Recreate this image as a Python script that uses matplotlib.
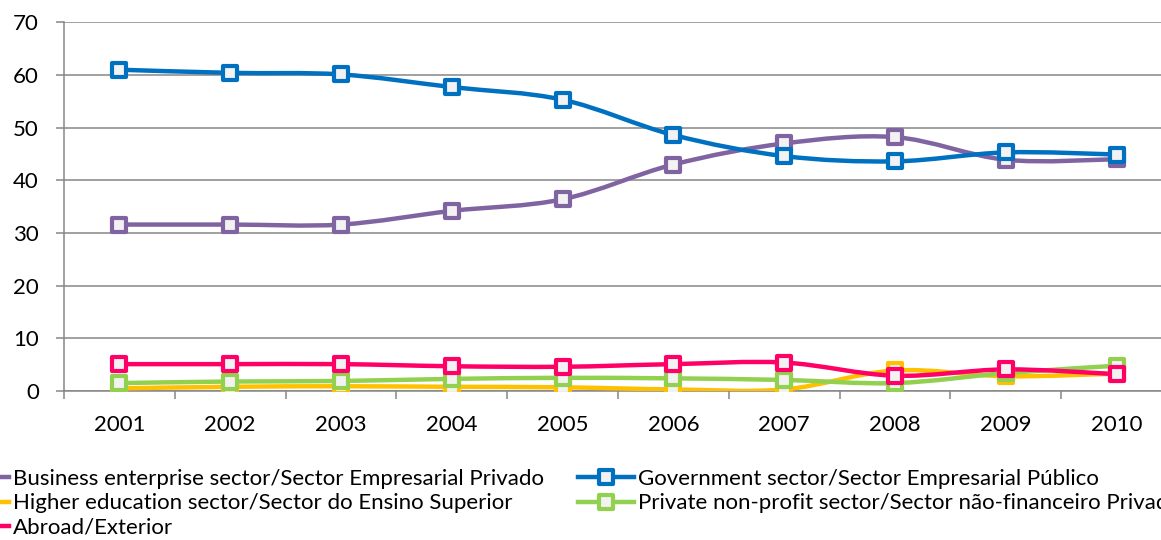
import numpy as np
import matplotlib
matplotlib.use("Agg")
import matplotlib.pyplot as plt
from matplotlib.path import Path
from matplotlib.patches import PathPatch
from matplotlib.lines import Line2D
from matplotlib.markers import MarkerStyle

years = ['2001', '2002', '2003', '2004', '2005', '2006', '2007', '2008', '2009', '2010']

business = [31.6, 31.6, 31.6, 34.2, 36.4, 43.0, 47.0, 48.2, 43.9, 44.0]
government = [61.0, 60.4, 60.1, 57.7, 55.3, 48.6, 44.6, 43.6, 45.3, 44.9]
higher_edu = [0.5, 0.8, 0.9, 0.8, 0.7, 0.3, 0.3, 3.9, 2.8, 3.3]
private_np = [1.5, 1.8, 1.9, 2.3, 2.5, 2.4, 2.1, 1.5, 3.4, 4.8]
abroad = [5.1, 5.1, 5.1, 4.7, 4.6, 5.1, 5.4, 2.9, 4.1, 3.2]

labels = ['Business enterprise sector/Sector Empresarial Privado',
          'Government sector/Sector Empresarial Público',
          'Higher education sector/Sector do Ensino Superior',
          'Private non-profit sector/Sector não-financeiro Privado',
          'Abroad/Exterior']
colors = ['#8064A2', '#0070C0', '#FFC000', '#92D050', '#FF0066']

plt.rcParams['font.family'] = ['Lato', 'DejaVu Sans']
FS = 16

fig = plt.figure(figsize=(11.61, 5.40), dpi=100)
ax = fig.add_axes([64 / 1161, 149 / 540, 1108 / 1161, 368.7 / 540])


def smooth_path(x, y):
    # excel-like smoothed line: catmull-rom as cubic bezier segments
    pts = np.column_stack([x, y]).astype(float)
    n = len(pts)
    verts = [pts[0]]
    codes = [Path.MOVETO]
    for i in range(n - 1):
        p0 = pts[i - 1] if i > 0 else pts[i]
        p1 = pts[i]
        p2 = pts[i + 1]
        p3 = pts[i + 2] if i + 2 < n else pts[i + 1]
        c1 = p1 + (p2 - p0) / 6.0
        c2 = p2 - (p3 - p1) / 6.0
        verts += [c1, c2, p2]
        codes += [Path.CURVE4] * 3
    return Path(verts, codes)


xs = np.arange(len(years))
mk = MarkerStyle('s', joinstyle='round')
series = [business, government, higher_edu, private_np, abroad]
for vals, c in zip(series, colors):
    ax.add_patch(PathPatch(smooth_path(xs, vals), facecolor='none', edgecolor=c,
                           lw=3.2, capstyle='round', joinstyle='round', zorder=3))
    ax.plot(xs, vals, ls='none', marker=mk, ms=10.5, mew=3, mfc='#F2F2F2', mec=c, zorder=4)

ax.set_xlim(-0.5, 9.5)
ax.set_ylim(0, 70)
ax.set_yticks(range(0, 71, 10))
ax.set_xticks(xs)
ax.set_xticklabels(years, fontsize=FS)
ax.set_xticks(np.arange(-0.5, 10, 1), minor=True)
ax.tick_params(axis='x', which='major', length=0, pad=17)
ax.tick_params(axis='x', which='minor', length=6, width=1.1, color='#868686')
ax.tick_params(axis='y', length=6, width=1.1, color='#868686', labelsize=FS, pad=12)
ax.grid(axis='y', color='#868686', lw=1.1)
ax.set_axisbelow(True)
for s in ['top', 'right']:
    ax.spines[s].set_visible(False)
for s in ['left', 'bottom']:
    ax.spines[s].set_color('#868686')
    ax.spines[s].set_linewidth(1.1)


def handle(c):
    return Line2D([], [], color=c, lw=3.2, marker=mk, ms=10, mew=3, mfc='#F2F2F2', mec=c)


left_idx = [0, 2, 4]
right_idx = [1, 3]
leg_kw = dict(loc='upper left', frameon=False, fontsize=FS, handlelength=2.5,
              handletextpad=0.2, labelspacing=0.2, borderpad=0, borderaxespad=0)
leg1 = fig.legend([handle(colors[i]) for i in left_idx], [labels[i] for i in left_idx],
                  bbox_to_anchor=(-47 / 1161, 1 - 469 / 540), **leg_kw)
leg2 = fig.legend([handle(colors[i]) for i in right_idx], [labels[i] for i in right_idx],
                  bbox_to_anchor=(578 / 1161, 1 - 469 / 540), **leg_kw)

fig.savefig('out.png', dpi=100)
